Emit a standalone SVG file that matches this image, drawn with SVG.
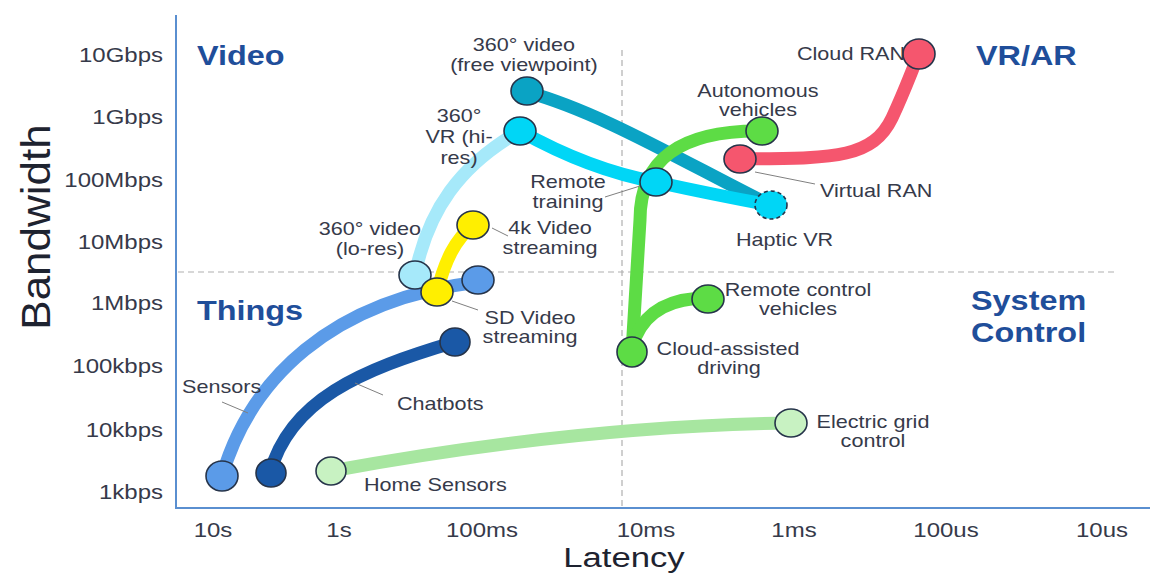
<svg xmlns="http://www.w3.org/2000/svg" width="1150" height="574" viewBox="0 0 1150 574">
<style>
text{font-family:"Liberation Sans",Arial,sans-serif;fill:#363a4a;transform-box:fill-box;transform:scaleX(1.2)}
.s{transform-origin:0% 50%}
.m{text-anchor:middle;transform-origin:50% 50%}
.e{text-anchor:end;transform-origin:100% 50%}
.tick{font-size:20px}
.lbl{font-size:18px}
.quad{font-size:27px;font-weight:bold;fill:#1f4e9a}
.ax{font-size:28px;fill:#1e2330;transform:scaleX(1.24)}
.bw{font-size:40px;fill:#1e2330;text-anchor:middle;transform-origin:50% 50%;transform:scaleX(1.1)}
.path{fill:none;stroke-width:13;stroke-linecap:round}
.node{stroke:#26344a;stroke-width:1.6}
.leader{stroke:#808080;stroke-width:1;fill:none}
.grid{stroke:#b0b0b0;stroke-width:1.2;stroke-dasharray:6 4;fill:none}
</style>
<rect width="1150" height="574" fill="#ffffff"/>
<g id="axes">
<line class="grid" x1="622" y1="50" x2="622" y2="508"/>
<line class="grid" x1="178" y1="272" x2="1118" y2="272"/>
<line x1="176" y1="15" x2="176" y2="509" stroke="#5a8fd0" stroke-width="2"/>
<line x1="175" y1="508" x2="1150" y2="508" stroke="#5a8fd0" stroke-width="2"/>
<text x="163" y="62" class="tick e">10Gbps</text>
<text x="163" y="124" class="tick e">1Gbps</text>
<text x="163" y="187" class="tick e">100Mbps</text>
<text x="163" y="249" class="tick e">10Mbps</text>
<text x="163" y="310" class="tick e">1Mbps</text>
<text x="163" y="373" class="tick e">100kbps</text>
<text x="163" y="437" class="tick e">10kbps</text>
<text x="163" y="499" class="tick e">1kbps</text>
<text x="213" y="537" class="tick m">10s</text>
<text x="339" y="537" class="tick m">1s</text>
<text x="482" y="537" class="tick m">100ms</text>
<text x="646" y="537" class="tick m">10ms</text>
<text x="794" y="537" class="tick m">1ms</text>
<text x="946" y="537" class="tick m">100us</text>
<text x="1102" y="537" class="tick m">10us</text>
<text x="624" y="567" class="ax m">Latency</text>
<g transform="translate(50,227) rotate(-90)"><text x="0" y="0" class="bw">Bandwidth</text></g>
<text x="197" y="65" class="quad s">Video</text>
<text x="976" y="65" class="quad s">VR/AR</text>
<text x="197" y="320" class="quad s">Things</text>
<text x="971" y="310" class="quad s">System</text>
<text x="971" y="342" class="quad s">Control</text>
</g>
<g id="connectors">
<path class="path" stroke="#a6e9fa" d="M415,275 C428,210 460,165 520,131"/>
<path class="path" stroke="#0aa3c4" d="M527,92 C600,112 680,160 770,205"/>
<path class="path" stroke="#00d6f6" d="M520,131 Q590,170 656,182 Q720,196 770,205"/>
<path class="path" stroke="#5ddc45" d="M632,352 L640,220 C640,160 680,130 762,131"/>
<path class="path" stroke="#5ddc45" d="M636,336 C650,305 680,298 707,298"/>
<path class="path" stroke="#f5566e" d="M740,159 C830,158 872,160 892,118 C906,88 912,70 919,54"/>
<path class="path" stroke="#ffef00" d="M437,292 C445,260 455,240 473,225"/>
<path class="path" stroke="#5b9be8" d="M222,476 C250,380 330,300 478,282"/>
<path class="path" stroke="#1a58a6" d="M270,473 C290,400 360,370 455,342"/>
<path class="path" stroke="#a7e6a0" d="M331,471 C500,440 650,425 791,423"/>
<line class="leader" x1="492" y1="228" x2="508" y2="236"/>
<line class="leader" x1="605" y1="197" x2="640" y2="186"/>
<line class="leader" x1="755" y1="172" x2="815" y2="184"/>
<line class="leader" x1="452" y1="301" x2="478" y2="310"/>
<line class="leader" x1="222" y1="402" x2="248" y2="413"/>
<line class="leader" x1="355" y1="383" x2="383" y2="395"/>
</g>
<g id="n-free-viewpoint"><ellipse class="node" cx="527" cy="91" rx="16" ry="14" fill="#0aa3c4"/>
<text class="lbl m" x="524" y="51">360° video</text><text class="lbl m" x="524" y="71">(free viewpoint)</text></g>
<g id="n-vr-hires"><ellipse class="node" cx="520" cy="131" rx="16" ry="14" fill="#00d6f6"/>
<text class="lbl m" x="459" y="122">360°</text><text class="lbl m" x="459" y="143">VR (hi-</text><text class="lbl m" x="459" y="164">res)</text></g>
<g id="n-remote-training"><ellipse class="node" cx="656" cy="182" rx="16" ry="14" fill="#00d6f6"/>
<text class="lbl m" x="568" y="188">Remote</text><text class="lbl m" x="568" y="208">training</text></g>
<g id="n-haptic"><ellipse class="node" cx="771" cy="205" rx="16" ry="14" fill="#00d6f6" stroke-dasharray="4 3"/>
<text class="lbl s" x="736" y="246">Haptic VR</text></g>
<g id="n-autonomous"><ellipse class="node" cx="762" cy="131" rx="16" ry="14" fill="#5ddc45"/>
<text class="lbl m" x="758" y="97">Autonomous</text><text class="lbl m" x="758" y="116">vehicles</text></g>
<g id="n-virtual-ran"><ellipse class="node" cx="740" cy="159" rx="16" ry="14" fill="#f5566e"/>
<text class="lbl s" x="820" y="197">Virtual RAN</text></g>
<g id="n-cloud-ran"><ellipse class="node" cx="919" cy="54" rx="16" ry="15" fill="#f5566e"/>
<text class="lbl e" x="905" y="60">Cloud RAN</text></g>
<g id="n-remote-control"><ellipse class="node" cx="708" cy="299" rx="16" ry="14" fill="#5ddc45"/>
<text class="lbl m" x="798" y="296">Remote control</text><text class="lbl m" x="798" y="315">vehicles</text></g>
<g id="n-cloud-assisted"><ellipse class="node" cx="632" cy="352" rx="15" ry="15" fill="#5ddc45"/>
<text class="lbl m" x="728" y="355">Cloud-assisted</text><text class="lbl m" x="729" y="374">driving</text></g>
<g id="n-electric"><ellipse class="node" cx="791" cy="423" rx="16" ry="14" fill="#c8f2c2"/>
<text class="lbl m" x="873" y="428">Electric grid</text><text class="lbl m" x="873" y="447">control</text></g>
<g id="n-lores"><ellipse class="node" cx="415" cy="275" rx="16" ry="14" fill="#a6e9fa"/>
<text class="lbl m" x="370" y="235">360° video</text><text class="lbl m" x="370" y="255">(lo-res)</text></g>
<g id="n-sensors-end"><ellipse class="node" cx="478" cy="280" rx="16" ry="14" fill="#5b9be8"/></g>
<g id="n-4k"><ellipse class="node" cx="473" cy="225" rx="16" ry="14" fill="#ffef00"/>
<text class="lbl m" x="550" y="234">4k Video</text><text class="lbl m" x="550" y="254">streaming</text></g>
<g id="n-sd"><ellipse class="node" cx="437" cy="292" rx="16" ry="14" fill="#ffef00"/>
<text class="lbl m" x="530" y="324">SD Video</text><text class="lbl m" x="530" y="343">streaming</text></g>
<g id="n-chatbots"><ellipse class="node" cx="455" cy="342" rx="15" ry="14" fill="#1a58a6"/>
<text class="lbl s" x="397" y="410">Chatbots</text></g>
<g id="n-sensors"><ellipse class="node" cx="222" cy="476" rx="16" ry="15" fill="#5b9be8"/>
<text class="lbl s" x="182" y="393">Sensors</text></g>
<g id="n-chatbots-start"><ellipse class="node" cx="271" cy="473" rx="15" ry="14" fill="#1a58a6"/></g>
<g id="n-home"><ellipse class="node" cx="331" cy="471" rx="15" ry="14" fill="#c8f2c2"/>
<text class="lbl s" x="364" y="491">Home Sensors</text></g>
</svg>
